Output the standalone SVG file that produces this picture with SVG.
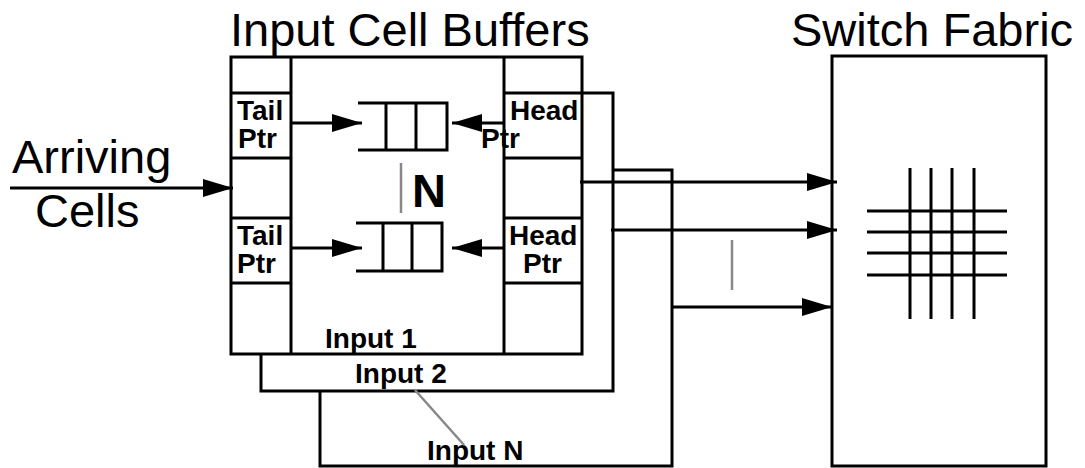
<svg xmlns="http://www.w3.org/2000/svg" width="1085" height="468" viewBox="0 0 1085 468">
<style>
.box{fill:#fff;stroke:#000;stroke-width:3}
.ln{fill:none;stroke:#000;stroke-width:3}
.con{fill:none;stroke:#000;stroke-width:3}
.gray{fill:none;stroke:#888;stroke-width:2.5}
.big{font-family:"Liberation Sans",Arial,sans-serif;font-size:47px;fill:#000}
.lbl{font-family:"Liberation Sans",Arial,sans-serif;font-weight:bold;font-size:28px;fill:#000}
</style>
<defs>
<marker id="ah" markerUnits="userSpaceOnUse" markerWidth="30" markerHeight="18" refX="30" refY="9" orient="auto">
<path d="M0,0 L30,9 L0,18 z" fill="#000"/>
</marker>
</defs>
<rect width="1085" height="468" fill="#fff"/>

<g id="title-input">
<text class="big" x="230" y="46">Input Cell Buffers</text>
</g>
<g id="title-switch">
<text class="big" x="791" y="46">Switch Fabric</text>
</g>
<g id="arriving">
<text class="big" x="12" y="173">Arriving</text>
<text class="big" x="35" y="227">Cells</text>
</g>

<g id="inputN">
<rect class="box" x="320" y="170" width="352" height="296"/>
<text class="lbl" x="427" y="460">Input N</text>
</g>
<g id="input2">
<rect class="box" x="261" y="93" width="352" height="298"/>
<text class="lbl" x="355" y="383">Input 2</text>
</g>
<g id="input1">
<rect class="box" x="231" y="57" width="351" height="297"/>
<path class="ln" d="M291,57 V354 M504,57 V354 M231,93 H291 M231,158 H291 M231,218 H291 M231,283 H291 M504,93 H582 M504,158 H582 M504,218 H582 M504,283 H582"/>
<text class="lbl" x="325" y="348">Input 1</text>
</g>

<g id="tail1">
<text class="lbl" x="237" y="120">Tail</text>
<text class="lbl" x="238" y="148">Ptr</text>
</g>
<g id="tail2">
<text class="lbl" x="237" y="245">Tail</text>
<text class="lbl" x="237" y="273">Ptr</text>
</g>
<g id="head1">
<text class="lbl" x="510" y="120">Head</text>
<text class="lbl" x="481" y="148">Ptr</text>
</g>
<g id="head2">
<text class="lbl" x="509" y="245">Head</text>
<text class="lbl" x="523" y="273">Ptr</text>
</g>

<g id="queue1">
<path class="ln" d="M358,103 H447 V150 H358 M386,103 V150 M416,103 V150"/>
</g>
<g id="queue2">
<path class="ln" d="M356,223 H442 V271 H356 M383,223 V271 M412,223 V271"/>
</g>
<g id="n-label">
<line class="gray" x1="401" y1="163" x2="401" y2="213"/>
<text class="lbl" x="412" y="207" style="font-size:47px">N</text>
</g>

<g id="switch">
<rect class="box" x="832" y="56" width="214" height="410"/>
<path class="ln" d="M910,168 V319 M931,168 V319 M952,168 V319 M974,168 V319 M867,211 H1007 M867,232 H1007 M867,253 H1007 M867,275 H1007"/>
</g>

<g id="connectors">
<line class="con" x1="10" y1="188" x2="233" y2="188" marker-end="url(#ah)"/>
<line class="con" x1="291" y1="123" x2="362" y2="123" marker-end="url(#ah)"/>
<line class="con" x1="504" y1="123" x2="452" y2="123" marker-end="url(#ah)"/>
<line class="con" x1="291" y1="248" x2="362" y2="248" marker-end="url(#ah)"/>
<line class="con" x1="504" y1="248" x2="452" y2="248" marker-end="url(#ah)"/>
<line class="con" x1="580" y1="182" x2="837" y2="182" marker-end="url(#ah)"/>
<line class="con" x1="611" y1="230" x2="837" y2="230" marker-end="url(#ah)"/>
<line class="con" x1="672" y1="307" x2="832" y2="307" marker-end="url(#ah)"/>
<line class="gray" x1="732" y1="240" x2="732" y2="290"/>
<line class="gray" x1="415" y1="390" x2="464" y2="445"/>
</g>
</svg>
